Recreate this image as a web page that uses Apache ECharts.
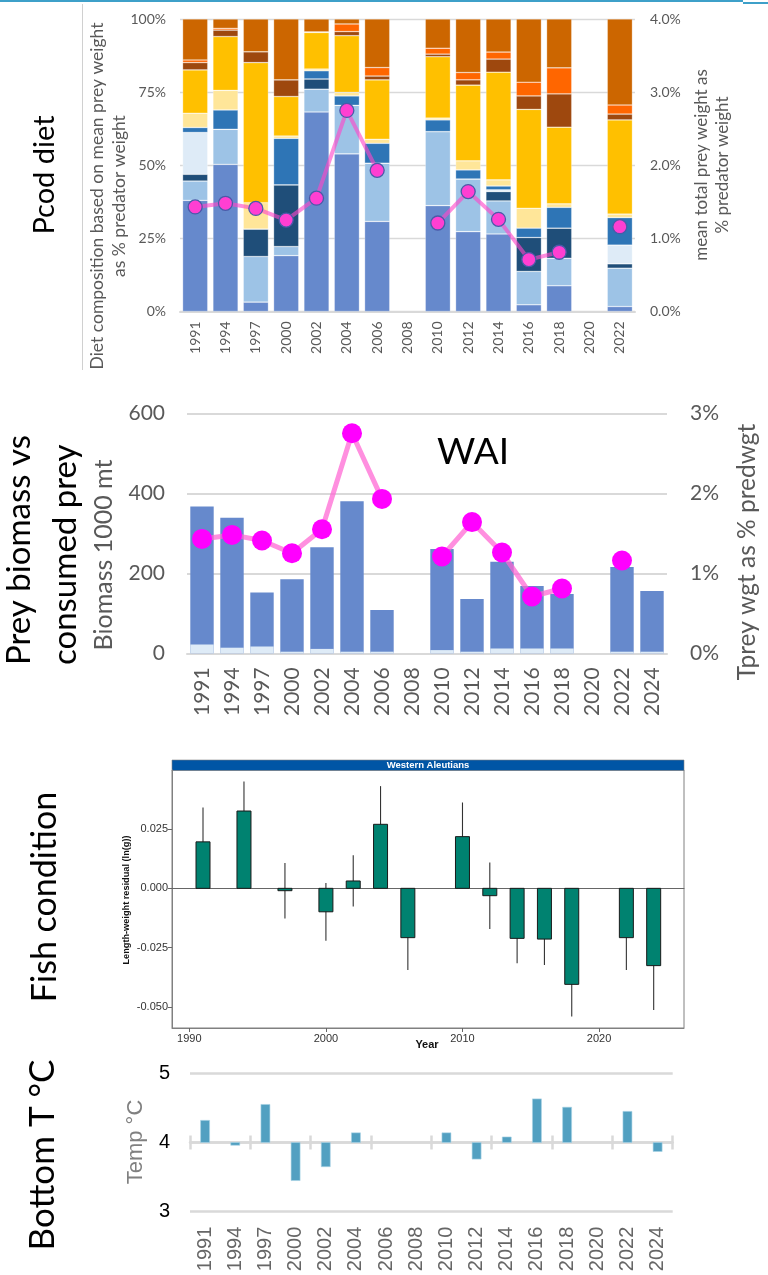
<!DOCTYPE html>
<html>
<head>
<meta charset="utf-8">
<script src="https://cdn.jsdelivr.net/npm/echarts@6/dist/echarts.min.js"></script>
<style>
  html, body { margin: 0; padding: 0; background: #ffffff; }
  #c { width: 768px; height: 1275px; }
</style>
</head>
<body>
<div id="c"></div>
<script>
// ---- Survey years (category axes) ----
const surveyYears = ['1991','1994','1997','2000','2002','2004','2006','2008','2010','2012','2014','2016','2018','2020','2022','2024'];
const dietYears = surveyYears.slice(0, 15);

// ---- Pacific cod diet composition, % of mean prey weight (bottom to top) ----
const dietSlateBlue = [38.0, 50.3, 3.2, 19.1, 68.2, 53.9, 30.8, null, 36.2, 27.3, 26.5, 2.3, 8.8, null, 1.7];
const dietPaleBlue  = [6.6, 12.0, 15.6, 3.1, 7.8, 16.6, 19.9, null, 25.3, 18.0, 11.3, 11.4, 9.4, null, 13.1];
const dietNavy      = [2.3, 0, 9.4, 21.1, 3.5, 0, 0, null, 0, 0, 3.2, 11.6, 10.3, null, 1.5];
const dietIceBlue   = [14.3, 0, 0, 0, 0, 0, 0, null, 0, 0, 0.6, 0, 0, null, 6.4];
const dietSteelBlue = [1.7, 6.6, 0, 15.9, 2.8, 3.2, 6.8, null, 4.0, 3.1, 1.3, 3.2, 7.1, null, 9.4];
const dietCream     = [4.9, 6.7, 9.0, 0.8, 0.6, 1.2, 1.4, null, 0.6, 3.1, 2.1, 6.8, 1.2, null, 1.2];
const dietGold      = [14.8, 18.4, 47.9, 13.5, 12.5, 19.4, 20.3, null, 21.0, 25.9, 36.8, 33.8, 26.2, null, 32.2];
const dietBrown     = [2.5, 2.2, 3.7, 5.7, 0.2, 1.4, 1.3, null, 0.9, 1.8, 4.5, 4.6, 11.4, null, 2.0];
const dietOrange    = [0.9, 0.6, 0, 0, 0, 2.6, 2.9, null, 2.0, 2.5, 2.4, 4.7, 8.9, null, 3.1];
const dietRust      = [14.0, 3.2, 11.2, 20.8, 4.4, 1.7, 16.6, null, 10.0, 18.3, 11.3, 21.6, 16.7, null, 29.4];

// ---- Mean total prey weight as % of predator weight ----
const preyPctPredWgt = [1.43, 1.48, 1.41, 1.25, 1.55, 2.75, 1.93, null, 1.21, 1.64, 1.26, 0.71, 0.81, null, 1.16, null];

// ---- Prey biomass and consumed prey (1000 t), WAI ----
const preyBiomass  = [367, 339, 152, 185, 265, 380, 108, null, 261, 136, 229, 168, 148, null, 216, 156];
const consumedPrey = [22, 14, 17, 4, 11, 4, 4, null, 8, 4, 12, 12, 12, null, 4, 4];

// ---- Fish condition: length-weight residuals (ln g) with error ----
const condYears = [1991, 1994, 1997, 2000, 2002, 2004, 2006, 2010, 2012, 2014, 2016, 2018, 2022, 2024];
const condResid = [0.0196, 0.0326, -0.0010, -0.0099, 0.0031, 0.0270, -0.0208, 0.0218, -0.0031, -0.0211, -0.0214, -0.0405, -0.0208, -0.0326];
const condErr   = [0.0145, 0.0124, 0.0117, 0.0122, 0.0108, 0.0161, 0.0136, 0.0144, 0.0140, 0.0105, 0.0109, 0.0136, 0.0136, 0.0187];
const condTicks = [-0.05, -0.025, 0, 0.025];
const condYearTicks = [1990, 2000, 2010, 2020];

// ---- Bottom temperature (deg C) ----
const bottomTemp = [4.32, 3.96, 4.55, 3.45, 3.65, 4.14, null, null, 4.14, 3.76, 4.08, 4.63, 4.51, null, 4.45, 3.87];
const tempMean = 4;

// ---- styling ----
const SANS = 'Lato';
const ARIAL = 'Liberation Sans';
const GREY = '#595959';
const GRIDC = '#D9D9D9';
const dietColors = ['#6689CC', '#9DC3E6', '#1F4E79', '#DEEBF7', '#2E75B6', '#FFE699', '#FFC000', '#9E480E', '#FF6600', '#CC6600'];
const dietStacks = [dietSlateBlue, dietPaleBlue, dietNavy, dietIceBlue, dietSteelBlue, dietCream, dietGold, dietBrown, dietOrange, dietRust];

const chart = echarts.init(document.getElementById('c'), null, { renderer: 'canvas' });

const grids = [
  { left: 180, top: 19, width: 455, height: 292.5 },      // diet
  { left: 187, top: 413.3, width: 480, height: 240 },     // biomass
  { left: 172, top: 770, width: 512, height: 258, show: true, borderColor: '#808080', borderWidth: 1 }, // condition
  { left: 190, top: 1073.3, width: 482.7, height: 138.4 } // temperature
];

const catLabel = (size, margin, family, color) => ({
  rotate: 90, fontSize: size, fontFamily: family, color: color, margin: margin, interval: 0
});

const xAxes = [
  { gridIndex: 0, type: 'category', data: dietYears, boundaryGap: true,
    axisLine: { lineStyle: { color: GRIDC, width: 2 } }, axisTick: { show: false },
    axisLabel: catLabel(14, 10, SANS, GREY) },
  { gridIndex: 1, type: 'category', data: surveyYears, boundaryGap: true,
    axisLine: { lineStyle: { color: GRIDC, width: 2 } }, axisTick: { show: false },
    axisLabel: catLabel(21, 14, SANS, GREY) },
  { gridIndex: 2, type: 'value', min: 1988.73, max: 2026.22, position: 'bottom',
    axisLine: { onZero: false, lineStyle: { color: '#808080', width: 1 } },
    axisTick: { show: true, length: 4, lineStyle: { color: '#666' }, customValues: condYearTicks },
    axisLabel: { fontSize: 11, fontFamily: ARIAL, color: '#333', margin: 5, customValues: condYearTicks,
      formatter: v => String(v) },
    splitLine: { show: false } },
  // zero reference line of the condition panel
  { gridIndex: 2, type: 'value', min: 1988.73, max: 2026.22,
    axisLine: { onZero: true, lineStyle: { color: '#666', width: 1 } },
    axisTick: { show: false }, axisLabel: { show: false }, splitLine: { show: false } },
  { gridIndex: 3, type: 'category', data: surveyYears, boundaryGap: true,
    axisLine: { show: false }, axisTick: { show: false },
    axisLabel: catLabel(20, 15, ARIAL, '#666') },
  // temperature axis line through the mean, with crossing ticks
  { gridIndex: 3, type: 'category', data: surveyYears, boundaryGap: true, offset: -69.2,
    axisLine: { show: true, lineStyle: { color: GRIDC, width: 2.5 } },
    axisTick: { show: true, interval: 1, length: 7, inside: false, lineStyle: { color: GRIDC, width: 2.5 } },
    axisLabel: { show: false } },
  { gridIndex: 3, type: 'category', data: surveyYears, boundaryGap: true, offset: -69.2,
    axisLine: { show: false },
    axisTick: { show: true, interval: 1, length: 7, inside: true, lineStyle: { color: GRIDC, width: 2.5 } },
    axisLabel: { show: false } }
];

const yAxes = [
  { gridIndex: 0, type: 'value', min: 0, max: 100, interval: 25,
    axisLabel: { formatter: '{value}%', fontSize: 14, fontFamily: SANS, color: GREY, margin: 14 },
    splitLine: { lineStyle: { color: GRIDC, width: 1.3 } }, axisLine: { show: false }, axisTick: { show: false } },
  { gridIndex: 0, type: 'value', min: 0, max: 4, interval: 1, position: 'right',
    axisLabel: { formatter: v => v.toFixed(1) + '%', fontSize: 14, fontFamily: SANS, color: GREY, margin: 15 },
    splitLine: { show: false }, axisLine: { show: false }, axisTick: { show: false } },
  { gridIndex: 1, type: 'value', min: 0, max: 600, interval: 200,
    axisLabel: { fontSize: 21, fontFamily: SANS, color: GREY, margin: 22 },
    splitLine: { lineStyle: { color: GRIDC, width: 2 } }, axisLine: { show: false }, axisTick: { show: false } },
  { gridIndex: 1, type: 'value', min: 0, max: 3, interval: 1, position: 'right',
    axisLabel: { formatter: '{value}%', fontSize: 21, fontFamily: SANS, color: GREY, margin: 23 },
    splitLine: { show: false }, axisLine: { show: false }, axisTick: { show: false } },
  { gridIndex: 2, type: 'value', min: -0.0589, max: 0.0499,
    axisLine: { show: true, lineStyle: { color: '#808080', width: 1 } },
    axisTick: { show: true, length: 4, lineStyle: { color: '#666' }, customValues: condTicks },
    axisLabel: { fontSize: 11, fontFamily: ARIAL, color: '#333', margin: 4, customValues: condTicks,
      formatter: v => v.toFixed(3) },
    splitLine: { show: false } },
  { gridIndex: 3, type: 'value', min: 3, max: 5, interval: 1,
    axisLabel: { fontSize: 20, fontFamily: ARIAL, color: '#000', margin: 20 },
    splitLine: { lineStyle: { color: GRIDC, width: 2.5 } }, axisLine: { show: false }, axisTick: { show: false } }
];

const series = [];

// Diet composition stacked columns
dietStacks.forEach((vals, k) => {
  series.push({
    type: 'bar', stack: 'diet', xAxisIndex: 0, yAxisIndex: 0,
    barCategoryGap: '17%', data: vals,
    itemStyle: { color: dietColors[k], borderColor: 'rgba(255,255,255,0.45)', borderWidth: 0.6 },
    silent: true
  });
});
series.push({
  type: 'line', xAxisIndex: 0, yAxisIndex: 1, data: preyPctPredWgt.slice(0, 15),
  connectNulls: false, symbol: 'circle', symbolSize: 14,
  lineStyle: { color: 'rgba(255,70,200,0.62)', width: 4 },
  itemStyle: { color: '#FF3FD2', borderColor: '#4A5AA8', borderWidth: 1.3 },
  z: 5, silent: true
});

// Prey biomass with consumed prey in front
series.push({
  type: 'bar', xAxisIndex: 1, yAxisIndex: 2, data: preyBiomass, barWidth: '78%',
  itemStyle: { color: '#6689CC' }, silent: true
});
series.push({
  type: 'bar', xAxisIndex: 1, yAxisIndex: 2, data: consumedPrey, barWidth: '78%', barGap: '-100%',
  itemStyle: { color: '#DEEBF7' }, silent: true
});
series.push({
  type: 'line', xAxisIndex: 1, yAxisIndex: 3, data: preyPctPredWgt,
  connectNulls: false, symbol: 'circle', symbolSize: 20,
  lineStyle: { color: 'rgba(255,100,210,0.72)', width: 5 },
  itemStyle: { color: '#FF00FF' }, z: 5, silent: true
});

// Fish condition: error whiskers then columns
const condData = condYears.map((y, i) => [y, condResid[i], condErr[i]]);
series.push({
  type: 'custom', xAxisIndex: 2, yAxisIndex: 4, data: condData, silent: true,
  renderItem: (params, api) => {
    const x = api.value(0), m = api.value(1), e = api.value(2);
    const a = api.coord([x, m + e]), b = api.coord([x, m - e]);
    return { type: 'line', shape: { x1: a[0], y1: a[1], x2: b[0], y2: b[1] },
             style: { stroke: '#333', lineWidth: 1.1 } };
  }
});
series.push({
  type: 'custom', xAxisIndex: 2, yAxisIndex: 4, data: condData, silent: true,
  renderItem: (params, api) => {
    const x = api.value(0), m = api.value(1);
    const base = api.coord([x, 0]), top = api.coord([x, m]);
    const w = 14;
    return { type: 'rect',
             shape: { x: base[0] - w / 2, y: Math.min(base[1], top[1]), width: w, height: Math.abs(top[1] - base[1]) },
             style: { fill: '#008270', stroke: '#1a1a1a', lineWidth: 1 } };
  }
});

// Bottom temperature columns from the mean line
const tempData = [];
bottomTemp.forEach((v, i) => { if (v !== null) tempData.push([i, v]); });
series.push({
  type: 'custom', xAxisIndex: 4, yAxisIndex: 5, data: tempData, silent: true,
  renderItem: (params, api) => {
    const i = api.value(0), v = api.value(1);
    const base = api.coord([i, tempMean]), top = api.coord([i, v]);
    const w = 9;
    return { type: 'rect',
             shape: { x: base[0] - w / 2, y: Math.min(base[1], top[1]), width: w, height: Math.abs(top[1] - base[1]) },
             style: { fill: '#52A0C1', stroke: '#A9D3E6', lineWidth: 0.6 } };
  }
});

const vText = (x, y, text, size, color, extra) => ({
  type: 'text', x: x, y: y, rotation: Math.PI / 2, silent: true,
  style: Object.assign({ text: text, fontSize: size, fontFamily: SANS, fill: color,
                         align: 'center', verticalAlign: 'middle' }, (extra && extra.style) || {})
});

const graphic = [
  // header rule
  { type: 'rect', shape: { x: 0, y: 0, width: 743, height: 2 }, style: { fill: '#3EA0C9' }, silent: true },
  { type: 'rect', shape: { x: 743, y: 2, width: 25, height: 2 }, style: { fill: '#3EA0C9' }, silent: true },
  { type: 'line', shape: { x1: 82.5, y1: 4, x2: 82.5, y2: 370 }, style: { stroke: '#D0D0D0', lineWidth: 1 }, silent: true },

  // panel titles
  vText(45, 175, 'Pcod diet', 29, '#000'),
  vText(42, 665, 'Prey biomass vs\nconsumed prey', 33, '#000', { style: { align: 'left', lineHeight: 46 } }),
  vText(45, 897, 'Fish condition', 34, '#000'),
  vText(43, 1155, 'Bottom T \u00B0C', 35, '#000'),

  // diet axis names
  vText(108, 196, 'Diet composition based on mean prey weight\nas % predator weight', 17.5, GREY, { style: { lineHeight: 22 } }),
  vText(712, 165, 'mean total prey weight as\n% predator weight', 17, GREY, { style: { lineHeight: 21 } }),

  // biomass axis names
  vText(104, 555, 'Biomass 1000 mt', 25, GREY),
  vText(747, 552, 'Tprey wgt as % predwgt', 24.5, GREY),
  { type: 'text', x: 473, y: 452, silent: true,
    style: { text: 'WAI', fontSize: 37, fontFamily: SANS, fill: '#000', align: 'center', verticalAlign: 'middle' } },

  // condition panel header and labels
  { type: 'rect', shape: { x: 172, y: 760, width: 512, height: 10.5 }, style: { fill: '#0055A5', stroke: '#808080', lineWidth: 0.6 }, silent: true },
  { type: 'text', x: 428, y: 765.5, silent: true,
    style: { text: 'Western Aleutians', fontSize: 9.5, fontWeight: 'bold', fontFamily: ARIAL, fill: '#fff', align: 'center', verticalAlign: 'middle' } },
  { type: 'text', x: 427, y: 1045, silent: true,
    style: { text: 'Year', fontSize: 11, fontWeight: 'bold', fontFamily: ARIAL, fill: '#111', align: 'center', verticalAlign: 'middle' } },
  vText(126, 900, 'Length-weight residual (ln(g))', 9.2, '#111', { style: { fontFamily: ARIAL, fontWeight: 'bold' } }),

  // temperature axis name
  vText(136, 1142, 'Temp \u00B0C', 22, '#808080', { style: { fontFamily: ARIAL } })
];

chart.setOption({
  animation: false,
  backgroundColor: '#ffffff',
  grid: grids,
  xAxis: xAxes,
  yAxis: yAxes,
  series: series,
  graphic: graphic
});
</script>
</body>
</html>
